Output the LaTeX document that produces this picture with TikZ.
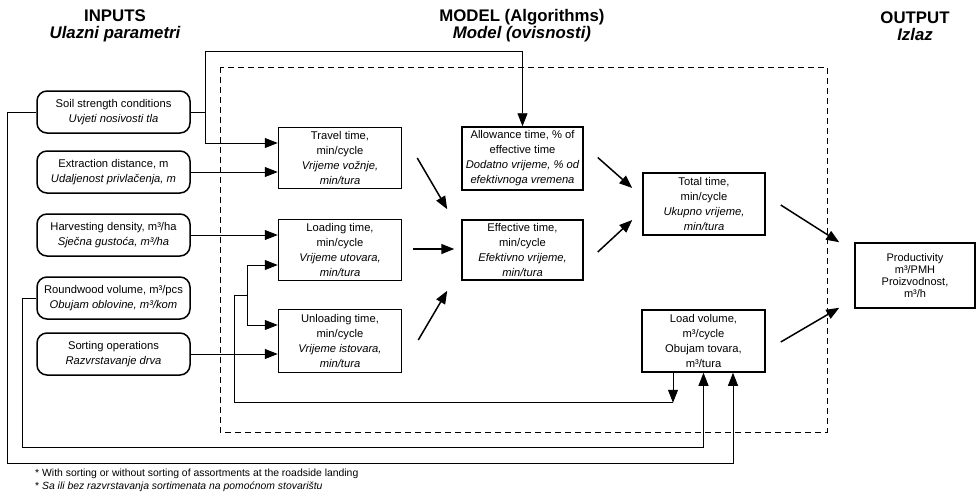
\documentclass[tikz,border=0pt]{standalone}
\usepackage{fontspec}
\setmainfont{Liberation Sans}
\usetikzlibrary{arrows.meta,calc}
\tikzset{
  inbox/.style={draw, line width=1.5pt, rounded corners=10pt, minimum width=153pt, minimum height=42pt, inner sep=0pt, align=center, font=\fontsize{11.2}{15}\selectfont},
  mbox/.style={draw, line width=1.5pt, minimum width=123pt, minimum height=61pt, inner sep=0pt, align=center, font=\fontsize{11.2}{15}\selectfont},
  conn/.style={line width=0.9pt},
  arr/.style={line width=0.9pt, -{Triangle[length=13pt,width=10pt]}},
  farr/.style={line width=1.5pt, -{Triangle[length=13pt,width=10pt]}},
  head/.style={align=center, font=\fontsize{16.8}{17}\selectfont\bfseries, inner sep=0pt},
  foot/.style={anchor=west, inner sep=0pt, font=\fontsize{10.4}{12}\selectfont},
  frame/.style={line width=1pt, dash pattern=on 6pt off 4pt}
}
\begin{document}
\begin{tikzpicture}[x=1pt,y=-1pt]
\useasboundingbox (0,0) rectangle (979,499);

% headings
\node[head] (hin) at (115,26) {INPUTS\\\itshape Ulazni parametri};
\node[head] (hmod) at (522,26) {MODEL (Algorithms)\\\itshape Model (ovisnosti)};
\node[head] (hout) at (915,26) {OUTPUT\\\itshape Izlaz};

% dashed model frame
\draw[frame] (220,67) rectangle (827,432);

% input boxes
\node[inbox] (soil) at (113.5,112) {Soil strength conditions\\\itshape Uvjeti nosivosti tla};
\node[inbox] (extr) at (113.5,172) {Extraction distance, m\\\itshape Udaljenost privlačenja, m};
\node[inbox] (harv) at (113.5,235) {Harvesting density, m³/ha\\\itshape Sječna gustoća, m³/ha};
\node[inbox] (round) at (113.5,298) {Roundwood volume, m³/pcs\\\itshape Obujam oblovine, m³/kom};
\node[inbox] (sort) at (113.5,354) {Sorting operations\\\itshape Razvrstavanje drva};

% model boxes
\node[mbox] (travel) at (340,158) {Travel time,\\min/cycle\\\itshape Vrijeme vožnje,\\\itshape min/tura};
\node[mbox] (loading) at (340,250) {Loading time,\\min/cycle\\\itshape Vrijeme utovara,\\\itshape min/tura};
\node[mbox, minimum height=63pt] (unloading) at (340,341) {Unloading time,\\min/cycle\\\itshape Vrijeme istovara,\\\itshape min/tura};
\node[mbox, minimum width=121pt, minimum height=63pt] (allow) at (522.5,158.5) {Allowance time, \% of\\effective time\\\itshape Dodatno vrijeme, \% od\\\itshape efektivnoga vremena};
\node[mbox, minimum width=121pt, minimum height=60pt] (eff) at (522.5,250) {Effective time,\\min/cycle\\\itshape Efektivno vrijeme,\\\itshape min/tura};
\node[mbox, minimum width=122pt, minimum height=62pt] (total) at (704,204) {Total time,\\min/cycle\\\itshape Ukupno vrijeme,\\\itshape min/tura};
\node[mbox, minimum width=123pt, minimum height=62pt] (load) at (703.5,341) {Load volume,\\m³/cycle\\Obujam tovara,\\m³/tura};
\node[mbox, minimum width=120pt, minimum height=65pt, font=\fontsize{11}{11.8}\selectfont] (prod) at (915,275.5) {Productivity\\m³/PMH\\Proizvodnost,\\m³/h};

% input connectors
\draw[arr] (extr.east) -- (extr.east -| travel.west);
\draw[arr] (harv.east) -- (harv.east -| loading.west);
\draw[arr] (sort.east) -- (sort.east -| unloading.west);
\coordinate (sb) at ($(soil.east)+(15,0)$);
\draw[conn] (soil.east) -- (sb);
\draw[arr] (sb) |- ($(travel.west)+(0,-15)$);
\draw[arr] (sb) |- ($(allow.north)+(0,-75)$) -- (allow.north);
\draw[arr] (soil.west) -- ++(-29,0) |- ($(load.south)+(29.5,91)$) -- ($(load.south)+(29.5,0)$);
\draw[arr] (round.west) -- ++(-14,0) |- ($(load.south)+(0,75)$) -- (load.south);

% load volume feedback to loading/unloading
\draw[arr] ($(load.south)+(-30.5,0)$) -- ++(0,30);
\coordinate (br) at ($(loading.west)+(-30,45)$);
\draw[conn] ($(load.south)+(-30.5,30)$) -| ($(loading.west)+(-43,45)$) -- (br);
\draw[arr] (br) |- ($(loading.west)+(0,15)$);
\draw[arr] (br) |- ($(unloading.west)+(0,-16)$);

% flow arrows inside model
\draw[farr] ($(travel.east)+(15,0)$) -- ($(eff.north west)+(-14,-10)$);
\draw[farr] ($(loading.east)+(11,-1)$) -- ($(eff.west)+(-7,-1)$);
\draw[farr] ($(unloading.east)+(16,-1)$) -- ($(eff.south west)+(-14,10)$);
\draw[farr] ($(allow.east)+(14,-1)$) -- ($(total.west)+(-10,-16)$);
\draw[farr] ($(eff.east)+(14,2)$) -- ($(total.west)+(-10,16)$);
\draw[farr] ($(total.east)+(15,1)$) -- ($(prod.north west)+(-15,0)$);
\draw[farr] ($(load.east)+(15,1)$) -- ($(prod.south west)+(-15,-1)$);

% footnotes
\node[foot] (f1) at (35,474) {* With sorting or without sorting of assortments at the roadside landing};
\node[foot] (f2) at (35,487) {* \itshape Sa ili bez razvrstavanja sortimenata na pomoćnom stovarištu};
\end{tikzpicture}
\end{document}
